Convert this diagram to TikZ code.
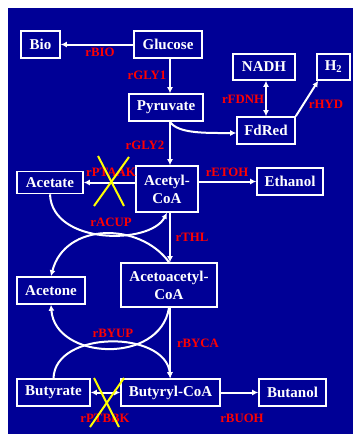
\documentclass[tikz,border=0pt]{standalone}
\usepackage{fontspec}
\setmainfont{Liberation Serif}
\usetikzlibrary{arrows.meta,calc}
\definecolor{bg}{RGB}{0,0,150}
\definecolor{lbl}{RGB}{255,0,0}
\definecolor{xmark}{RGB}{255,255,0}
\tikzset{
  box/.style={draw=white, line width=1.6pt, text=white, font=\fontsize{15}{18}\selectfont\bfseries, inner sep=0pt, align=center},
  rlab/.style={text=lbl, font=\fontsize{12.8}{14}\selectfont\bfseries, inner sep=0pt},
  conn/.style={draw=white, line width=2pt, -{Latex[length=6pt,width=6pt]}},
  biconn/.style={draw=white, line width=2pt, {Latex[length=6pt,width=6pt]}-{Latex[length=6pt,width=6pt]}},
  cross/.style={draw=xmark, line width=2pt},
}
\begin{document}
\begin{tikzpicture}[x=1pt,y=-1pt]
\useasboundingbox (0,0) rectangle (353,434);
\fill[bg] (8,8) rectangle (353,434);
% nodes
\node[box, minimum width=39pt, minimum height=27pt] (bio) at (40.5,44.5) {Bio};
\node[box, minimum width=68pt, minimum height=27pt] (glucose) at (168,44.5) {Glucose};
\node[box, minimum width=62pt, minimum height=26pt] (nadh) at (264,67) {NADH};
\node[box, minimum width=33pt, minimum height=26pt] (h2) at (333.5,67) {H\textsubscript{2}};
\node[box, minimum width=74pt, minimum height=27pt] (pyruvate) at (166,107.5) {Pyruvate};
\node[box, minimum width=58pt, minimum height=27pt] (fdred) at (266,130.5) {FdRed};
\node[box, minimum width=62pt, minimum height=46pt] (acetyl) at (167,189) {Acetyl-\\CoA};
\node[box, minimum width=66pt, minimum height=22pt] (acetate) at (50,182.5) {Acetate};
\node[box, minimum width=66pt, minimum height=27pt] (ethanol) at (290,181.5) {Ethanol};
\node[box, minimum width=96pt, minimum height=44pt] (acetoacetyl) at (169,285) {Acetoacetyl-\\CoA};
\node[box, minimum width=68pt, minimum height=27pt] (acetone) at (51,290.5) {Acetone};
\node[box, minimum width=73pt, minimum height=27pt] (butyrate) at (53.5,392.5) {Butyrate};
\node[box, minimum width=99pt, minimum height=27pt] (butyryl) at (170.5,392.5) {Butyryl-CoA};
\node[box, minimum width=67pt, minimum height=27pt] (butanol) at (292.5,392.5) {Butanol};
% helper coordinates
\coordinate (vx) at (170,0);
\coordinate (nx) at (266,0);
% connectors
\draw[conn] (glucose.west) -- (bio.east);
\draw[conn] (glucose.south -| vx) -- (pyruvate.north -| vx);
\draw[conn] (pyruvate.south -| vx) -- (acetyl.north -| vx);
\draw[conn] (pyruvate.south -| vx) .. controls +(8,12) and +(-30,0) .. ($(fdred.west)+(0,2.5)$);
\draw[biconn] (nadh.south -| nx) -- (fdred.north -| nx);
\draw[conn] (fdred.north east) -- ($(h2.south west)+(2,0)$);
\draw[conn] (acetyl.west |- acetate) -- (acetate.east);
\draw[conn] (acetyl.east |- ethanol) -- (ethanol.west);
\draw[conn] (acetyl.south -| vx) -- (acetoacetyl.north -| vx);
\draw[conn] (acetate.south) .. controls (52,245) and (150,245) .. (acetyl.south);
\draw[conn] (acetoacetyl.north) .. controls (140,222) and (65,222) .. (acetone.north);
\draw[conn] (acetoacetyl.south -| vx) -- (butyryl.north -| vx);
\draw[conn] (acetoacetyl.south) .. controls (160,365) and (55,360) .. (acetone.south);
\draw[conn] (butyrate.north) .. controls (55,330) and (165,330) .. (butyryl.north);
\draw[biconn] (butyryl.west) -- (butyrate.east);
\draw[conn] (butyryl.east) -- (butanol.west);
% labels
\node[rlab] (lbio) at (100,52) {rBIO};
\node[rlab] (lgly1) at (147,75) {rGLY1};
\node[rlab] (lfdnh) at (243,99) {rFDNH};
\node[rlab] (lhyd) at (326,104) {rHYD};
\node[rlab] (lgly2) at (145,145) {rGLY2};
\node[rlab] (lptaak) at (111,172) {rPTAAK};
\node[rlab] (letoh) at (227,172) {rETOH};
\node[rlab] (lacup) at (111,222) {rACUP};
\node[rlab] (lthl) at (192,237) {rTHL};
\node[rlab] (lbyup) at (113,333) {rBYUP};
\node[rlab] (lbyca) at (198,343) {rBYCA};
\node[rlab] (lptbbk) at (105,418) {rPTBBK};
\node[rlab] (lbuoh) at (242,418) {rBUOH};
% crosses
\draw[cross] (98,156) -- (124,206);
\draw[cross] (129,157) -- (94,206);
\draw[cross] (94,378) -- (119,427);
\draw[cross] (124,378) -- (90,427);
\end{tikzpicture}
\end{document}
